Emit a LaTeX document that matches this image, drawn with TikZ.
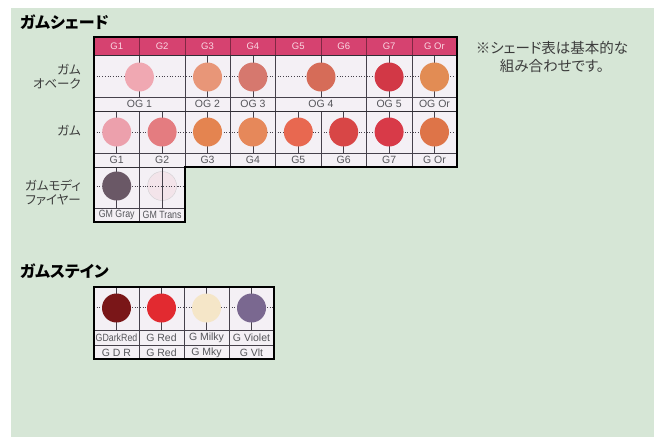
\documentclass[tikz,border=0pt]{standalone}
\usepackage{fontspec}
\setmainfont{Liberation Sans}
\newfontfamily\jp{Noto Sans CJK JP}[RawFeature=+palt]
\newfontfamily\narrowfont{Liberation Sans}[FakeStretch=0.84]
\definecolor{bggreen}{RGB}{214,230,214}
\definecolor{cellbg}{RGB}{244,240,245}
\definecolor{hdrpink}{RGB}{214,66,112}
\definecolor{hdrtext}{RGB}{250,214,226}
\definecolor{gridgray}{RGB}{70,65,75}
\definecolor{labelgray}{RGB}{85,85,90}
\definecolor{textgray}{RGB}{60,60,60}
% swatch colours
\definecolor{cOGa}{RGB}{240,168,178}
\definecolor{cOGb}{RGB}{232,150,120}
\definecolor{cOGc}{RGB}{214,120,110}
\definecolor{cOGd}{RGB}{214,108,88}
\definecolor{cOGe}{RGB}{210,56,70}
\definecolor{cOGf}{RGB}{226,140,84}
\definecolor{cGa}{RGB}{236,160,172}
\definecolor{cGb}{RGB}{228,124,128}
\definecolor{cGc}{RGB}{228,132,80}
\definecolor{cGd}{RGB}{230,136,90}
\definecolor{cGe}{RGB}{232,104,80}
\definecolor{cGf}{RGB}{216,70,70}
\definecolor{cGg}{RGB}{216,58,72}
\definecolor{cGh}{RGB}{222,116,72}
\definecolor{cGMgray}{RGB}{106,88,102}
\definecolor{cGMtrans}{RGB}{243,228,234}
\definecolor{cSdr}{RGB}{122,22,24}
\definecolor{cSred}{RGB}{226,42,48}
\definecolor{cSmilky}{RGB}{245,230,200}
\definecolor{cSviolet}{RGB}{122,104,144}
\tikzset{
  swatch/.style={circle, minimum size=29pt, inner sep=0pt, fill=#1},
  lbl/.style={font=\fontsize{10.5}{11}\selectfont, text=labelgray, inner sep=0pt},
  nlbl/.style={font=\narrowfont\fontsize{10.5}{11}\selectfont, text=labelgray, inner sep=0pt},
  hdr/.style={font=\fontsize{9.5}{10}\selectfont, text=hdrtext, inner sep=0pt},
  rowlbl/.style={font=\jp\fontsize{12.5}{14}\selectfont, align=right, anchor=east, text=textgray, inner sep=0pt},
  title/.style={font=\jp\bfseries\fontsize{16}{18}\selectfont, anchor=west, text=black, inner sep=0pt},
  note/.style={font=\jp\fontsize{14.5}{18}\selectfont, align=center, text=textgray, inner sep=0pt},
  thin/.style={draw=gridgray, line width=0.6pt},
  mid/.style={draw=gridgray!70!black, line width=1pt},
  frame/.style={draw=black, line width=1.6pt},
  dotl/.style={draw=gridgray, dotted, line width=0.7pt},
  tickl/.style={draw=gridgray, line width=0.6pt}
}
\begin{document}
\begin{tikzpicture}[x=1pt,y=-1pt]
\useasboundingbox (0,0) rectangle (660,437);
\fill[white] (0,0) rectangle (660,437);
\fill[bggreen] (11,8) rectangle (654,437);

% ---------- titles and texts
\node[title] (t1) at (20,22) {ガムシェード};
\node[title] (t2) at (20,271) {ガムステイン};
\node[note] (nt) at (552,57) {※シェード表は基本的な\\組み合わせです。};
\node[rowlbl] (rl1) at (81,77) {ガム\\オベーク};
\node[rowlbl] (rl2) at (81,131) {ガム};
\node[rowlbl] (rl3) at (81,193) {ガムモディ\\ファイヤー};

% ---------- main table backgrounds
\fill[cellbg] (94,55) rectangle (457.2,167);
\fill[cellbg] (94,167) rectangle (184.8,222);
\fill[hdrpink] (94,37) rectangle (457.2,55);

% header vertical lines and labels
\foreach \k in {1,...,7} \draw[draw=hdrpink!60!black, line width=0.6pt] ({94+\k*45.4},37) -- ({94+\k*45.4},55);
\foreach \t [count=\i] in {G1,G2,G3,G4,G5,G6,G7,G Or}
  \node[hdr] (h\i) at ({94+(\i-0.5)*45.4},46) {\t};

% opaque row crosshairs
\draw[dotl] (94,76) -- (457.2,76);
\foreach \x in {139.4,207.5,252.9,321,389.1,434.5} \draw[tickl] (\x,55) -- (\x,97);
% opaque row vertical lines
\foreach \k in {2,3,4,6,7} \draw[thin] ({94+\k*45.4},55) -- ({94+\k*45.4},111);
% swatches
\node[swatch=cOGa] (og1) at (139.4,77) {};
\node[swatch=cOGb] (og2) at (207.5,77) {};
\node[swatch=cOGc] (og3) at (252.9,77) {};
\node[swatch=cOGd] (og4) at (321,77) {};
\node[swatch=cOGe] (og5) at (389.1,77) {};
\node[swatch=cOGf] (og6) at (434.5,77) {};
\node[lbl] (ogl1) at (139.4,104) {OG 1};
\node[lbl] (ogl2) at (207.5,104) {OG 2};
\node[lbl] (ogl3) at (252.9,104) {OG 3};
\node[lbl] (ogl4) at (321,104) {OG 4};
\node[lbl] (ogl5) at (389.1,104) {OG 5};
\node[lbl] (ogl6) at (434.5,104) {OG Or};

% gum row
\draw[dotl] (94,132) -- (457.2,132);
\foreach \i in {1,...,8} \draw[tickl] ({94+(\i-0.5)*45.4},111) -- ({94+(\i-0.5)*45.4},153);
\foreach \k in {1,...,7} \draw[thin] ({94+\k*45.4},111) -- ({94+\k*45.4},167);
\foreach \c [count=\i] in {cGa,cGb,cGc,cGd,cGe,cGf,cGg,cGh}
  \node[swatch=\c] (g\i) at ({94+(\i-0.5)*45.4},132) {};
\foreach \t [count=\i] in {G1,G2,G3,G4,G5,G6,G7,G Or}
  \node[lbl] (gl\i) at ({94+(\i-0.5)*45.4},160) {\t};

% modifier row
\draw[dotl] (94,186) -- (184.8,186);
\foreach \x in {116.7,162.1} \draw[tickl] (\x,167) -- (\x,208);
\draw[thin] (139.4,167) -- (139.4,222);
\node[swatch=cGMgray] (gm1) at (116.7,186) {};
\node[swatch=cGMtrans, draw=gridgray!25, line width=0.4pt] (gm2) at (162.1,186) {};
\draw[tickl] (162.1,171) -- (162.1,201);
\draw[dotl] (147,186) -- (177,186);
\node[nlbl] (gml1) at (116.7,215) {GM Gray};
\node[nlbl] (gml2) at (162.1,215) {GM Trans};

% horizontal lines main table
\draw[thin] (94,97) -- (457.2,97);
\draw[mid] (94,111) -- (457.2,111);
\draw[thin] (94,153) -- (457.2,153);
\draw[mid] (94,55) -- (457.2,55);
\draw[thin] (94,208) -- (184.8,208);
\draw[mid] (94,167) -- (184.8,167);
\draw[frame] (94,37) -- (457.2,37) -- (457.2,167) -- (184.8,167) -- (184.8,222) -- (94,222) -- cycle;

% ---------- stain table
\fill[cellbg] (94,287) rectangle (274,359);
\draw[dotl] (94,307) -- (274,307);
\foreach \i in {1,...,4} \draw[tickl] ({94+(\i-0.5)*45},287) -- ({94+(\i-0.5)*45},330);
\foreach \k in {1,2,3} \draw[thin] ({94+\k*45},287) -- ({94+\k*45},359);
\draw[thin] (94,330) -- (274,330);
\draw[thin] (94,345) -- (274,345);
\foreach \c [count=\i] in {cSdr,cSred,cSmilky,cSviolet}
  \node[swatch=\c] (s\i) at ({94+(\i-0.5)*45},308) {};
\node[nlbl] (sl1) at (116.5,338) {GDarkRed};
\node[lbl] (sl2) at (161.5,338) {G Red};
\node[lbl] (sl3) at (206.5,338) {G Milky};
\node[lbl] (sl4) at (251.5,338) {G Violet};
\node[lbl] (sm1) at (116.5,352.5) {G D R};
\node[lbl] (sm2) at (161.5,352.5) {G Red};
\node[lbl] (sm3) at (206.5,352.5) {G Mky};
\node[lbl] (sm4) at (251.5,352.5) {G Vlt};
\draw[frame] (94,287) rectangle (274,359);
\end{tikzpicture}
\end{document}
